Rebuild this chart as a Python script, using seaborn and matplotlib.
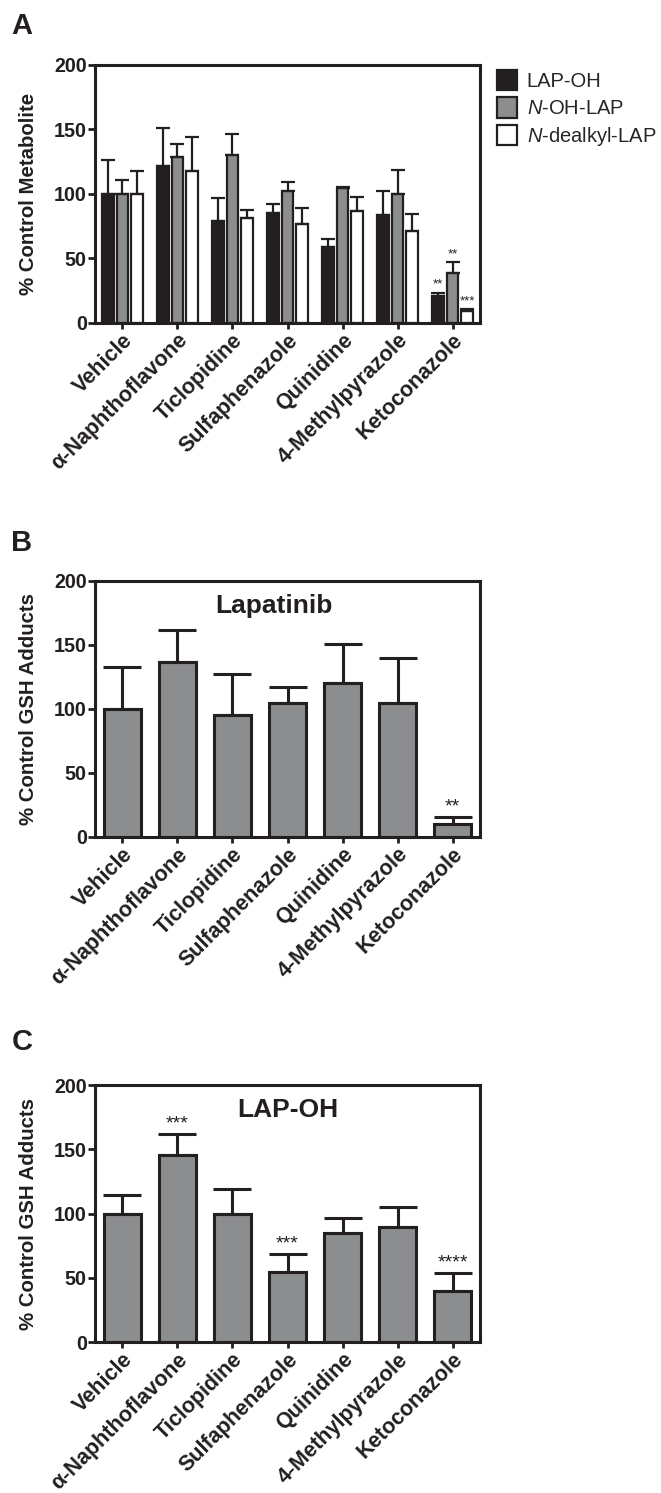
import numpy as np
import pandas as pd
import matplotlib
matplotlib.use("Agg")
import matplotlib.pyplot as plt
from matplotlib.patches import Patch
import seaborn as sns

sns.set_style("ticks")
plt.rcParams['font.family'] = ['Liberation Sans', 'DejaVu Sans']
plt.rcParams['mathtext.fontset'] = 'custom'
plt.rcParams['mathtext.it'] = 'Liberation Sans:italic'
plt.rcParams['mathtext.rm'] = 'Liberation Sans'

INK = '#231f20'
GRAY = '#8c8d8f'

# ---- data ----
drugs = ["Vehicle", "α-Naphthoflavone", "Ticlopidine", "Sulfaphenazole",
         "Quinidine", "4-Methylpyrazole", "Ketoconazole"]

# panel A: % control metabolite
metabolites = ["LAP-OH", "N-OH-LAP", "N-dealkyl-LAP"]
metab_labels = ["LAP-OH", "$N$-OH-LAP", "$N$-dealkyl-LAP"]
lap_oh = [100, 122, 79, 85, 59, 84, 21]
lap_oh_err = [26, 29, 18, 7, 6, 18, 2.5]
n_oh_lap = [100, 129, 130, 102.5, 104.5, 100, 38.5]
n_oh_lap_err = [11, 10, 16.5, 6.5, 1, 18.5, 8.5]
n_dealkyl = [100, 118, 81.5, 76.5, 86.5, 71.5, 9.5]
n_dealkyl_err = [18, 26.5, 6, 12.5, 11, 13, 1.3]
stars_a = [["", "", "", "", "", "", "**"],
           ["", "", "", "", "", "", "**"],
           ["", "", "", "", "", "", "***"]]

# panel B: Lapatinib GSH adducts
lapatinib = [100, 137, 95, 105, 120, 105, 10.5]
lapatinib_err = [32.5, 24.5, 32.5, 12, 31, 35, 5]
stars_b = ["", "", "", "", "", "", "**"]

# panel C: LAP-OH GSH adducts
lapoh_gsh = [100, 145.5, 100, 54.5, 85, 89.5, 40]
lapoh_gsh_err = [14.5, 16.5, 19.5, 14, 11.5, 16, 13.5]
stars_c = ["", "***", "", "***", "", "", "****"]

YTICK_FS = 14.2
XTICK_FS = 15.5
LABEL_FS = 14.7

fig = plt.figure(figsize=(6.61, 14.93), dpi=100)
axA = fig.add_axes([0.1437, 0.7837, 0.5825, 0.1728])
axB = fig.add_axes([0.1437, 0.4394, 0.5825, 0.1715])
axC = fig.add_axes([0.1437, 0.1011, 0.5825, 0.1721])


def style_axis(ax, ylabel):
    ax.set_xlim(-0.5, 6.5)
    ax.set_ylim(0, 200)
    ax.set_yticks([0, 50, 100, 150, 200])
    for sp in ax.spines.values():
        sp.set_visible(True)
        sp.set_linewidth(2.2)
        sp.set_color(INK)
    ax.tick_params(axis='y', length=5, width=2, pad=1, labelsize=YTICK_FS, colors=INK)
    ax.tick_params(axis='x', length=4, width=2, pad=1, labelsize=XTICK_FS, colors=INK)
    for t in ax.get_yticklabels():
        t.set_fontweight('bold')
    ax.set_xticks(range(len(drugs)))
    ax.set_xticklabels(drugs, rotation=45, ha='right', va='top',
                       rotation_mode='anchor', fontweight='bold')
    ax.set_xlabel("")
    ax.set_ylabel(ylabel, fontsize=LABEL_FS, fontweight='bold', color=INK, labelpad=11)


def add_errors(ax, bars, errs, stars, lw, cap, star_fs, star_off):
    for bar, e, s in zip(bars, errs, stars):
        x = bar.get_x() + bar.get_width() / 2
        h = bar.get_height()
        ax.errorbar(x, h, yerr=[[0], [e]], fmt='none', ecolor=INK,
                    elinewidth=lw, capsize=cap, capthick=lw, zorder=5)
        if s:
            ax.text(x, h + e + star_off, s, ha='center', va='bottom',
                    fontsize=star_fs, color=INK)


# ---- panel A ----
df_a = pd.DataFrame({
    "drug": drugs * 3,
    "metabolite": np.repeat(metabolites, len(drugs)),
    "value": lap_oh + n_oh_lap + n_dealkyl,
})
sns.barplot(data=df_a, x="drug", y="value", hue="metabolite",
            palette=[INK, GRAY, "white"], saturation=1, width=0.8, gap=0.2,
            edgecolor=INK, linewidth=1.6, errorbar=None, legend=False, ax=axA)
for cont, errs, st in zip(axA.containers, [lap_oh_err, n_oh_lap_err, n_dealkyl_err], stars_a):
    add_errors(axA, cont, errs, st, 1.6, 4.8, 9.5, 1.5)
style_axis(axA, "% Control Metabolite")

handles = [Patch(facecolor=c, edgecolor=INK, linewidth=1.6) for c in [INK, GRAY, "white"]]
axA.legend(handles, metab_labels, loc='upper left',
           bbox_to_anchor=(497 / 661, 1 - 70 / 1493), bbox_transform=fig.transFigure,
           frameon=False, fontsize=14.5, borderpad=0, borderaxespad=0,
           handlelength=1.0, handleheight=1.18, labelspacing=0.32, handletextpad=0.48)

# ---- panel B ----
df_b = pd.DataFrame({"drug": drugs, "value": lapatinib})
sns.barplot(data=df_b, x="drug", y="value", color=GRAY, saturation=1, width=0.68,
            edgecolor=INK, linewidth=2.2, errorbar=None, ax=axB)
add_errors(axB, axB.patches, lapatinib_err, stars_b, 2.2, 14, 14, 1.5)
style_axis(axB, "% Control GSH Adducts")
axB.text(2.75, 175, "Lapatinib", ha='center', va='baseline', fontsize=19,
         fontweight='bold', color=INK)

# ---- panel C ----
df_c = pd.DataFrame({"drug": drugs, "value": lapoh_gsh})
sns.barplot(data=df_c, x="drug", y="value", color=GRAY, saturation=1, width=0.68,
            edgecolor=INK, linewidth=2.2, errorbar=None, ax=axC)
add_errors(axC, axC.patches, lapoh_gsh_err, stars_c, 2.2, 14, 14, 1.5)
style_axis(axC, "% Control GSH Adducts")
axC.text(3.0, 175, "LAP-OH", ha='center', va='baseline', fontsize=19,
         fontweight='bold', color=INK)

# panel letters
for letter, ypix in [("A", 26), ("B", 543), ("C", 1042)]:
    fig.text(22 / 661, 1 - ypix / 1493, letter, fontsize=21, fontweight='bold',
             ha='center', va='center', color=INK)

fig.savefig("out.png", dpi=100)
